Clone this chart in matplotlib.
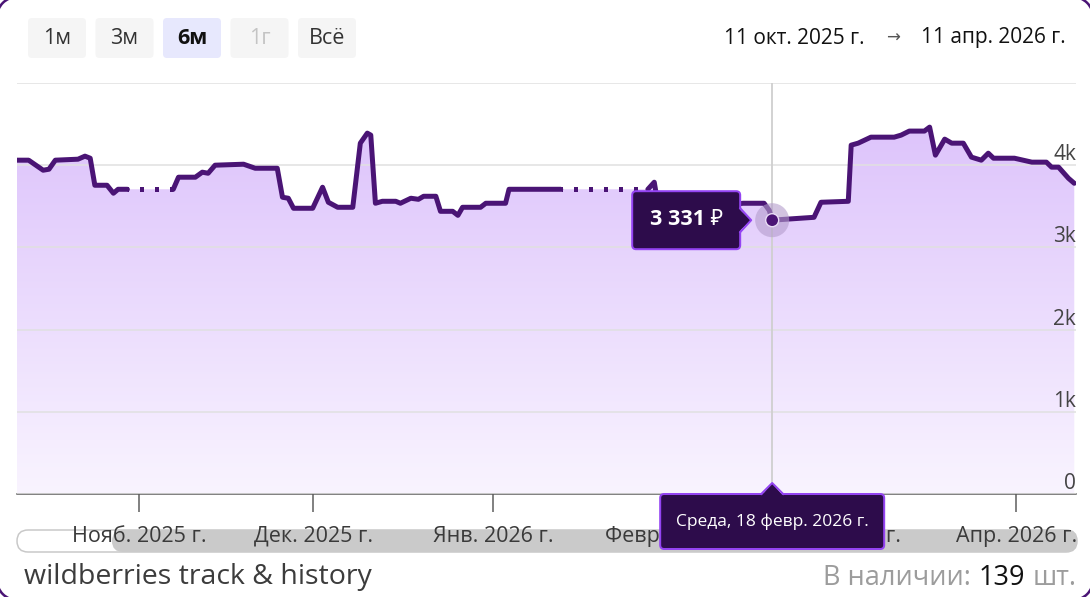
import numpy as np
import pandas as pd
import matplotlib
matplotlib.use('Agg')
import matplotlib.pyplot as plt
import matplotlib.dates as mdates
from matplotlib.patches import FancyBboxPatch, Polygon, Circle, Arc
from matplotlib.colors import LinearSegmentedColormap

plt.rcParams['font.family'] = ['Open Sans', 'Noto Sans', 'DejaVu Sans']

W, H = 1090, 597

# --- данные ---
start_date = '2025-10-11'
end_date = '2026-04-11'

# дни от start_date и цена (руб.)
days = [0, 2, 4.5, 5.5, 6.6, 10.5, 11.7, 12.6, 13.4, 15.5, 16.6, 17.4, 19,
        26.9, 27.8, 30.7, 31.9, 32.9, 34.1, 39.0, 41.0, 44.8, 45.7, 46.7, 47.6, 50.9,
        52.6, 53.6, 55.2, 57.8, 59.1, 60.3, 60.9, 61.7, 62.9, 65.2, 66.0, 67.8, 69.1,
        70.0, 72.1, 72.9, 75.0, 75.9, 76.7, 79.8, 80.7, 84.1, 84.7, 93.6,
        108.6, 109.7, 110.5, 118, 125, 128.6, 129.5, 130, 132, 137.2, 138.4, 143.1,
        143.6, 144.8, 147, 151, 152.2, 153.6, 156.2, 157.1, 158.1, 159.7, 160.9, 162.9,
        164.3, 166, 167.2, 168.1, 171.7, 174.7, 177.2, 178.1, 179.3, 181, 182]
prices = [4061, 4061, 3939, 3951, 4061, 4073, 4110, 4085, 3756, 3756, 3659, 3707, 3707,
          3707, 3854, 3854, 3915, 3902, 4000, 4012, 3963, 3963, 3610, 3598, 3476, 3476,
          3732, 3549, 3488, 3488, 4268, 4390, 4366, 3537, 3561, 3561, 3537, 3598, 3585,
          3622, 3622, 3439, 3439, 3390, 3488, 3488, 3537, 3537, 3707, 3707,
          3707, 3793, 3450, 3480, 3537, 3537, 3450, 3331, 3341, 3366, 3549, 3561,
          4244, 4268, 4341, 4341, 4366, 4415, 4415, 4463, 4122, 4317, 4268, 4268,
          4098, 4061, 4146, 4085, 4085, 4037, 4037, 3976, 3976, 3841, 3780]
# периоды без данных (пунктир)
missing = [(19, 26.9), (93.6, 108.6)]

month_ticks = ['2025-11-01', '2025-12-01', '2026-01-01', '2026-02-01', '2026-03-01', '2026-04-01']
month_labels = ['Нояб. 2025 г.', 'Дек. 2025 г.', 'Янв. 2026 г.', 'Февр. 2026 г.', 'Март 2026 г.', 'Апр. 2026 г.']
y_ticks = [0, 1000, 2000, 3000, 4000, 5000]
y_labels = ['0', '1k', '2k', '3k', '4k', '']

hover_date = '2026-02-18'
hover_price = 3331
hover_value_text = '3 331 ₽'
hover_date_text = 'Среда, 18 февр. 2026 г.'

buttons = ['1м', '3м', '6м', '1г', 'Всё']
active_button = '6м'
disabled_button = '1г'
range_from = '11 окт. 2025 г.'
range_to = '11 апр. 2026 г.'
stock_count = '139'

LINE = '#4a1475'
px = 0.72  # 1 px в пунктах при dpi=100

fig = plt.figure(figsize=(W / 100, H / 100), dpi=100)
fig.patch.set_facecolor('white')

# фон (скроллбар) и верхний слой (подсказки) в пикселях
bg = fig.add_axes([0, 0, 1, 1], zorder=0)
bg.set_xlim(0, W)
bg.set_ylim(H, 0)
bg.axis('off')

ax = fig.add_axes([17 / W, (H - 494) / H, (1076 - 17) / W, (494 - 83) / H], zorder=1)
ax.patch.set_alpha(0)

fg = fig.add_axes([0, 0, 1, 1], zorder=3)
fg.set_xlim(0, W)
fg.set_ylim(H, 0)
fg.axis('off')
fg.patch.set_alpha(0)

t0 = mdates.date2num(pd.Timestamp(start_date))
t1 = mdates.date2num(pd.Timestamp(end_date))
x = t0 + np.array(days, dtype=float)
y = np.array(prices, dtype=float)

# градиентная заливка под линией
cmap = LinearSegmentedColormap.from_list('fill', ['#f9f4ff', '#dabefb'])
grad = np.linspace(1, 0, 256).reshape(-1, 1)
im = ax.imshow(grad, aspect='auto', cmap=cmap, extent=[x[0], x[-1], 0, 5000],
               zorder=1, interpolation='bicubic')
verts = np.vstack([np.column_stack([x, y]), [[x[-1], 0], [x[0], 0]]])
clip = Polygon(verts, closed=True, transform=ax.transData, facecolor='none', edgecolor='none')
ax.add_patch(clip)
im.set_clip_path(clip)

# перекрестие
hx = mdates.date2num(pd.Timestamp(hover_date))
ax.axvline(hx, color='#cfcfcf', lw=1.3, zorder=2.6)

# линия: сплошные участки и пунктир на пропусках
cuts = [0] + [days.index(g[0]) + 1 for g in missing] + [len(days)]
for a, b in zip(cuts[:-1], cuts[1:]):
    ax.plot(x[a:b], y[a:b], color=LINE, lw=5 * px, solid_capstyle='round',
            solid_joinstyle='round', zorder=3)
for g0, g1 in missing:
    i0, i1 = days.index(g0), days.index(g1)
    ax.plot([x[i0], x[i1]], [y[i0], y[i1]], color=LINE, lw=5 * px,
            linestyle=(3.5, (0.8, 2.2)), dash_capstyle='butt', zorder=3)

ax.set_xlim(t0, t1 + 0.3)
ax.set_ylim(0, 5000)

ax.set_xticks([mdates.date2num(pd.Timestamp(d)) for d in month_ticks])
ax.set_xticklabels(month_labels)
ax.tick_params(axis='x', length=18 * px, width=1.5 * px, color='#5a5a5a', pad=10,
               labelsize=15.5, labelcolor='#3a3a3a')

ax.set_yticks(y_ticks)
ax.set_yticklabels(y_labels)
ax.yaxis.tick_right()
ax.tick_params(axis='y', length=0, pad=0, labelsize=15, labelcolor='#444444')
for lbl in ax.get_yticklabels():
    lbl.set_ha('right')
    lbl.set_va('bottom')

ax.grid(axis='y', color='#e0e0e0', lw=1.5 * px)
ax.set_axisbelow(False)
for s in ['top', 'left', 'right']:
    ax.spines[s].set_visible(False)
ax.spines['bottom'].set_color('#5a5a5a')
ax.spines['bottom'].set_linewidth(1.5 * px)

# положение точки наведения в пикселях
dx, dy = ax.transData.transform((hx, hover_price))
hpx, hpy = dx, H - dy

# --- кнопки периода ---
bx = 28
for b in buttons:
    face = '#e7e8fd' if b == active_button else '#f5f5f5'
    fg.add_patch(FancyBboxPatch((bx, 18), 58, 40, boxstyle='round,pad=0,rounding_size=4',
                                facecolor=face, edgecolor='none'))
    color = '#c4c4c4' if b == disabled_button else ('#111111' if b == active_button else '#333333')
    fg.text(bx + 29, 39, b, ha='center', va='center', fontsize=15.5, color=color,
            fontweight='bold' if b == active_button else 'normal')
    bx += 67.5

fg.text(865, 38, range_from, ha='right', va='center', fontsize=15, color='#111111')
fg.text(893, 38, '→', ha='center', va='center', fontsize=12, color='#555555',
        family=['DejaVu Sans'])
fg.text(921, 38, range_to, ha='left', va='center', fontsize=15, color='#111111')

# --- скроллбар ---
bg.add_patch(FancyBboxPatch((17, 530), 1060, 22, boxstyle='round,pad=0,rounding_size=11',
                            facecolor='white', edgecolor='#c8c8c8', lw=1.5 * px))
bg.add_patch(FancyBboxPatch((112, 530), 965, 22, boxstyle='round,pad=0,rounding_size=11',
                            facecolor='#cacaca', edgecolor='none'))

# --- подписи внизу ---
fg.text(24, 577, 'wildberries track & history', ha='left', va='center', fontsize=20.5,
        color='#3c3c3c')
renderer = fig.canvas.get_renderer()
xr = 1077
for s, c in [('шт.', '#9c9c9c'), (stock_count, '#111111'), ('В наличии:', '#9c9c9c')]:
    t = fg.text(xr, 578, s, ha='right', va='center', fontsize=19.5, color=c)
    xr -= t.get_window_extent(renderer).width + 8

# --- точка наведения ---
fg.add_patch(Circle((hpx, hpy), 17, facecolor='#b49dcc', edgecolor='none', alpha=0.6))
fg.add_patch(Circle((hpx, hpy), 6.5, facecolor=LINE, edgecolor='#e8dcf5', lw=1))

TIP_FACE = '#2d0c4b'
TIP_EDGE = '#9444f2'

# подсказка с ценой (слева от точки)
w1, h1 = 108, 58
r1 = hpx - 32
fg.add_patch(FancyBboxPatch((r1 - w1, hpy - h1 / 2), w1, h1,
                            boxstyle='round,pad=0,rounding_size=4',
                            facecolor=TIP_FACE, edgecolor=TIP_EDGE, lw=2 * px))
fg.add_patch(Polygon([(r1 - 2, hpy - 12), (r1 + 11, hpy), (r1 - 2, hpy + 12)],
                     closed=True, facecolor=TIP_FACE, edgecolor='none'))
fg.plot([r1, r1 + 11, r1], [hpy - 12, hpy, hpy + 12], color=TIP_EDGE, lw=2 * px)
fg.text(r1 - w1 / 2, hpy - 1, hover_value_text, ha='center', va='center', fontsize=15.5,
        fontweight='bold', color='white')

# подсказка с датой (под осью)
w2, h2 = 224, 55
top2 = 494
fg.add_patch(FancyBboxPatch((hpx - w2 / 2, top2), w2, h2,
                            boxstyle='round,pad=0,rounding_size=4',
                            facecolor=TIP_FACE, edgecolor=TIP_EDGE, lw=2 * px))
fg.add_patch(Polygon([(hpx - 11, top2 + 2), (hpx, top2 - 11), (hpx + 11, top2 + 2)],
                     closed=True, facecolor=TIP_FACE, edgecolor='none'))
fg.plot([hpx - 11, hpx, hpx + 11], [top2, top2 - 11, top2], color=TIP_EDGE, lw=2 * px)
fg.text(hpx, top2 + h2 / 2, hover_date_text, ha='center', va='center', fontsize=12.5,
        color='white')

# углы скруглённой рамки контейнера
r = 20
for cx, cy, a0 in [(r - 3, r - 3, 180), (W - r + 3, r - 3, 270),
                   (W - r + 3, H - r + 3, 0), (r - 3, H - r + 3, 90)]:
    fg.add_patch(Arc((cx, cy), 2 * r, 2 * r, theta1=a0, theta2=a0 + 90,
                     color='#4a1475', lw=2.5 * px))

fig.savefig('out.png', dpi=100)
